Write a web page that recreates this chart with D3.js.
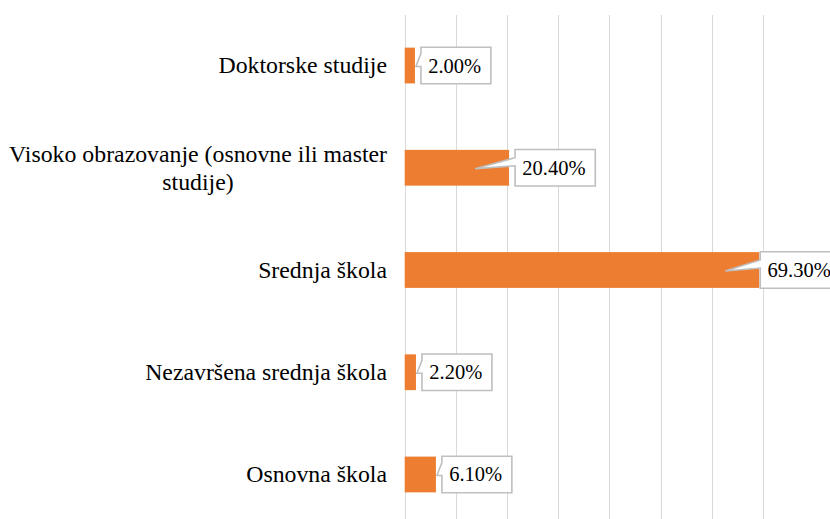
<!DOCTYPE html>
<html>
<head>
<meta charset="utf-8">
<script src="https://cdn.jsdelivr.net/npm/d3@7"></script>
<style>
    body { margin: 0; background: #ffffff; }
    svg { display: block; }
</style>
</head>
<body>
<div id="chart-area"></div>
<script>
document.addEventListener("DOMContentLoaded", function() {
    // Datos del gráfico
    var categories = [
        "Doktorske studije",
        "Visoko obrazovanje (osnovne ili master studije)",
        "Srednja škola",
        "Nezavršena srednja škola",
        "Osnovna škola"
    ];
    var values = [2.0, 20.4, 69.3, 2.2, 6.1];
    var gridTicks = [0, 10, 20, 30, 40, 50, 60, 70];

    var width = 830;
    var height = 519;

    var svg = d3.select("#chart-area").append("svg")
        .attr("width", width)
        .attr("height", height);

    // Escalas
    var x = d3.scaleLinear()
        .domain([0, 80])
        .range([404.7, 814]);

    var y = d3.scaleBand()
        .domain(categories)
        .range([14.4, 525.6])
        .paddingInner(0.65)
        .paddingOuter(0.325);

    // Líneas de la cuadrícula
    svg.append("g")
        .selectAll("line")
        .data(gridTicks)
        .enter()
        .append("line")
            .attr("x1", (d) => Math.round(x(d)) + 0.5)
            .attr("x2", (d) => Math.round(x(d)) + 0.5)
            .attr("y1", 15)
            .attr("y2", height)
            .attr("stroke", "#d9d9d9")
            .attr("stroke-width", 1);

    // Barras
    svg.append("g")
        .selectAll("rect")
        .data(values)
        .enter()
        .append("rect")
            .attr("x", x(0))
            .attr("y", (d, i) => y(categories[i]))
            .attr("width", (d) => x(d) - x(0))
            .attr("height", y.bandwidth())
            .attr("fill", "#ED7D31");

    // Etiquetas del eje vertical (con salto de línea)
    var labelRight = 387;
    var lineHeight = 28;
    var axisLabels = svg.append("g")
        .attr("font-family", "'Liberation Serif', 'Times New Roman', serif")
        .attr("font-size", "23.8px")
        .attr("fill", "#000000");

    categories.forEach(function(cat, i) {
        var cy = y(cat) + y.bandwidth() / 2;
        var words = cat.split(" ");
        var lines = [];
        var current = [];
        var probe = axisLabels.append("text");
        words.forEach(function(w) {
            current.push(w);
            probe.text(current.join(" "));
            if (probe.node().getComputedTextLength() > 385 && current.length > 1) {
                current.pop();
                lines.push(current.join(" "));
                current = [w];
            }
        });
        lines.push(current.join(" "));

        var maxW = 0;
        lines.forEach(function(l) {
            probe.text(l);
            maxW = Math.max(maxW, probe.node().getComputedTextLength());
        });
        probe.remove();

        var cx = labelRight - maxW / 2;
        var firstBase = cy + 7.8 - (lines.length - 1) * lineHeight / 2;
        lines.forEach(function(l, j) {
            axisLabels.append("text")
                .attr("x", cx)
                .attr("y", firstBase + j * lineHeight)
                .attr("text-anchor", "middle")
                .text(l);
        });
    });

    // Etiquetas de datos tipo globo
    var fmt = d3.format(".2f");
    var callouts = svg.append("g")
        .attr("font-family", "'Liberation Serif', 'Times New Roman', serif")
        .attr("font-size", "20.5px");

    values.forEach(function(v, i) {
        var cy = y(categories[i]) + y.bandwidth() / 2;
        var barEnd = x(v);
        var g = callouts.append("g");
        var t = g.append("text")
            .attr("fill", "#000000")
            .text(fmt(v) + "%");
        var tw = t.node().getComputedTextLength();
        var bw = tw + 17;
        var bh = 36.6;
        var bx = Math.max(barEnd + 1, Math.min(barEnd + 6, width - tw - 8));
        var top = cy - bh / 2;
        var bottom = cy + bh / 2;

        var tipX, tipY, b1, b2;
        if (barEnd - x(0) > 50) {
            tipX = barEnd - 34; tipY = cy + 1; b1 = cy - 10; b2 = cy - 2;
        } else {
            tipX = barEnd + 1; tipY = cy + 1; b1 = cy - 12; b2 = cy + 1;
        }

        var p = "M" + bx + "," + top +
            "H" + (bx + bw) + "V" + bottom + "H" + bx +
            "V" + b2 + "L" + tipX + "," + tipY + "L" + bx + "," + b1 + "Z";

        g.insert("path", "text")
            .attr("d", p)
            .attr("fill", "#ffffff")
            .attr("stroke", "#bfbfbf")
            .attr("stroke-width", 1.6)
            .attr("stroke-linejoin", "miter");

        t.attr("x", bx + 7.3)
            .attr("y", cy + 7)
            .attr("text-anchor", "start");
    });
});
</script>
</body>
</html>
